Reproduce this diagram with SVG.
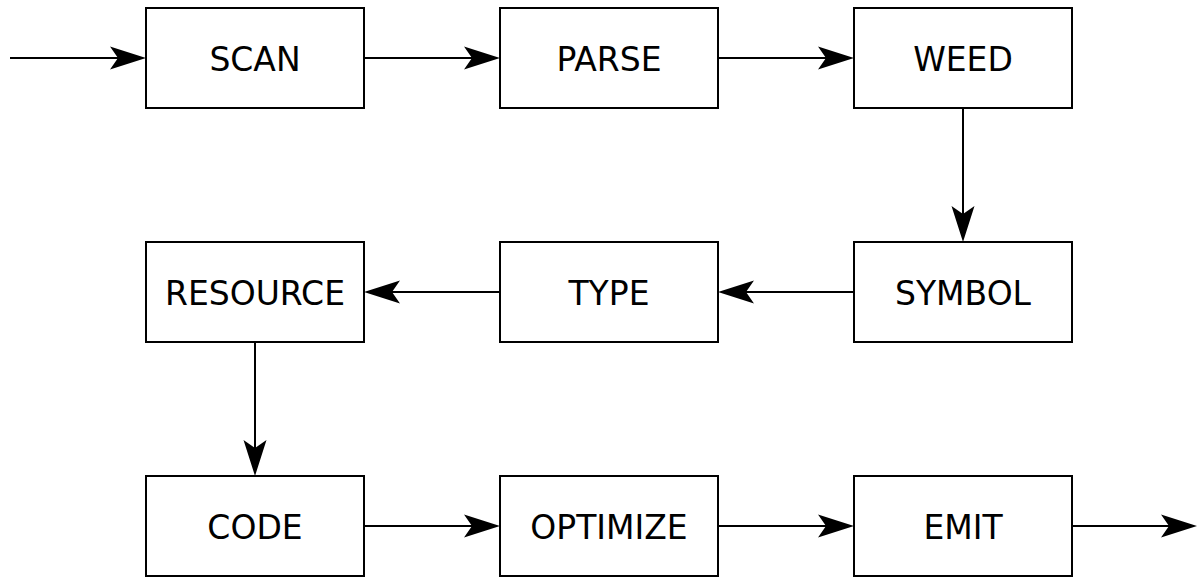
<svg xmlns="http://www.w3.org/2000/svg" width="1197" height="577" viewBox="0 0 1197 577">
<style>
.box{fill:#fff;stroke:#000;stroke-width:2}
.lbl{font-family:"DejaVu Sans",sans-serif;font-size:33px;fill:#000;text-anchor:middle}
.con{fill:none;stroke:#000;stroke-width:2;marker-end:url(#ah)}
</style>
<defs>
<marker id="ah" markerUnits="userSpaceOnUse" markerWidth="1" markerHeight="1" refX="0" refY="0" orient="auto" overflow="visible">
<path d="M28,0 L-8,-11.5 L0,0 L-8,11.5 Z" fill="#000"/>
</marker>
</defs>
<rect width="1197" height="577" fill="#fff"/>
<g id="connectors">
<path class="con" d="M10,58 H118"/>
<path class="con" d="M364,58 H472"/>
<path class="con" d="M718,58 H826"/>
<path class="con" d="M963,108 V214"/>
<path class="con" d="M854,292 H746"/>
<path class="con" d="M500,292 H392"/>
<path class="con" d="M255,342 V448"/>
<path class="con" d="M364,526 H472"/>
<path class="con" d="M718,526 H826"/>
<path class="con" d="M1072,526 H1169"/>
</g>
<g id="scan"><rect class="box" x="146" y="8" width="218" height="100"/><text class="lbl" x="255" y="71">SCAN</text></g>
<g id="parse"><rect class="box" x="500" y="8" width="218" height="100"/><text class="lbl" x="609" y="71">PARSE</text></g>
<g id="weed"><rect class="box" x="854" y="8" width="218" height="100"/><text class="lbl" x="963" y="71">WEED</text></g>
<g id="resource"><rect class="box" x="146" y="242" width="218" height="100"/><text class="lbl" x="255" y="305">RESOURCE</text></g>
<g id="type"><rect class="box" x="500" y="242" width="218" height="100"/><text class="lbl" x="609" y="305">TYPE</text></g>
<g id="symbol"><rect class="box" x="854" y="242" width="218" height="100"/><text class="lbl" x="963" y="305">SYMBOL</text></g>
<g id="code"><rect class="box" x="146" y="476" width="218" height="100"/><text class="lbl" x="255" y="539">CODE</text></g>
<g id="optimize"><rect class="box" x="500" y="476" width="218" height="100"/><text class="lbl" x="609" y="539">OPTIMIZE</text></g>
<g id="emit"><rect class="box" x="854" y="476" width="218" height="100"/><text class="lbl" x="963" y="539">EMIT</text></g>
</svg>
